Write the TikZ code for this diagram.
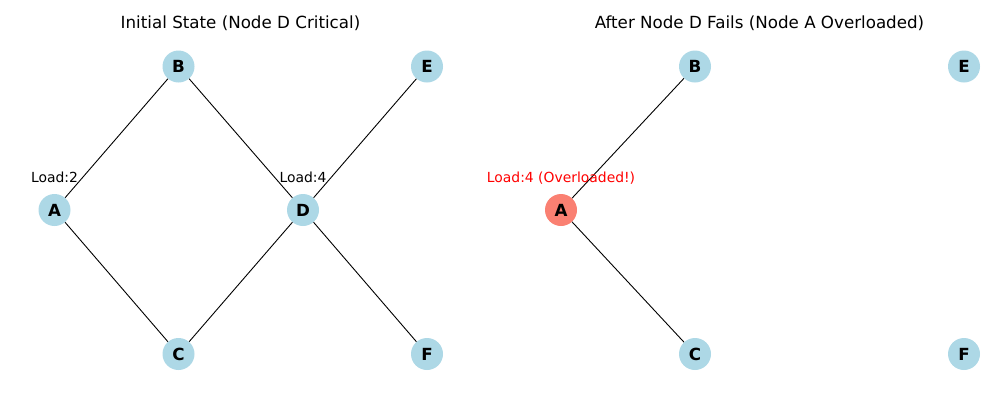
\documentclass[tikz,border=0pt]{standalone}
\usepackage{fontspec}
\setmainfont{DejaVu Sans}
\begin{document}
\begin{tikzpicture}[x=1pt,y=-1pt,
  nd/.style={circle,fill=lbl,minimum size=32pt,inner sep=0pt,font=\fontsize{16.7}{16.7}\selectfont\bfseries},
  ndred/.style={nd,fill=salm},
  ttl/.style={anchor=base,font=\fontsize{16.7}{20}\selectfont},
  lbl/.style={anchor=base,font=\fontsize{13.9}{16}\selectfont,inner sep=0pt},
  edge/.style={draw=black,line width=0.9pt}]
\definecolor{lbl}{HTML}{ADD8E6}
\definecolor{salm}{HTML}{FA8072}
\useasboundingbox (0,0) rectangle (1000,400);
% titles
\node[ttl] (t1) at (240.5,28.3) {Initial State (Node D Critical)};
\node[ttl] (t2) at (759.5,28.3) {After Node D Fails (Node A Overloaded)};
% left graph
\node[nd] (A) at (54.5,210) {A};
\node[nd] (B) at (178.5,66.5) {B};
\node[nd] (C) at (178.5,354) {C};
\node[nd] (D) at (303,210) {D};
\node[nd] (E) at (427,66.5) {E};
\node[nd] (F) at (427,354) {F};
\begin{scope}[on background layer/.style={}]
\end{scope}
% right graph
\node[ndred] (A2) at (561,210) {A};
\node[nd] (B2) at (695,66.5) {B};
\node[nd] (C2) at (695,354) {C};
\node[nd] (E2) at (964,66.5) {E};
\node[nd] (F2) at (964,354) {F};
% edges (drawn, then nodes redrawn on top)
\draw[edge] (A) -- (B);
\draw[edge] (A) -- (C);
\draw[edge] (B) -- (D);
\draw[edge] (C) -- (D);
\draw[edge] (D) -- (E);
\draw[edge] (D) -- (F);
\draw[edge] (A2) -- (B2);
\draw[edge] (A2) -- (C2);
% labels
\node[lbl] (l1) at (54.5,182.3) {Load:2};
\node[lbl] (l2) at (303,182.3) {Load:4};
\node[lbl,text=red] (l3) at (561,182.3) {Load:4 (Overloaded!)};
\end{tikzpicture}
\end{document}
